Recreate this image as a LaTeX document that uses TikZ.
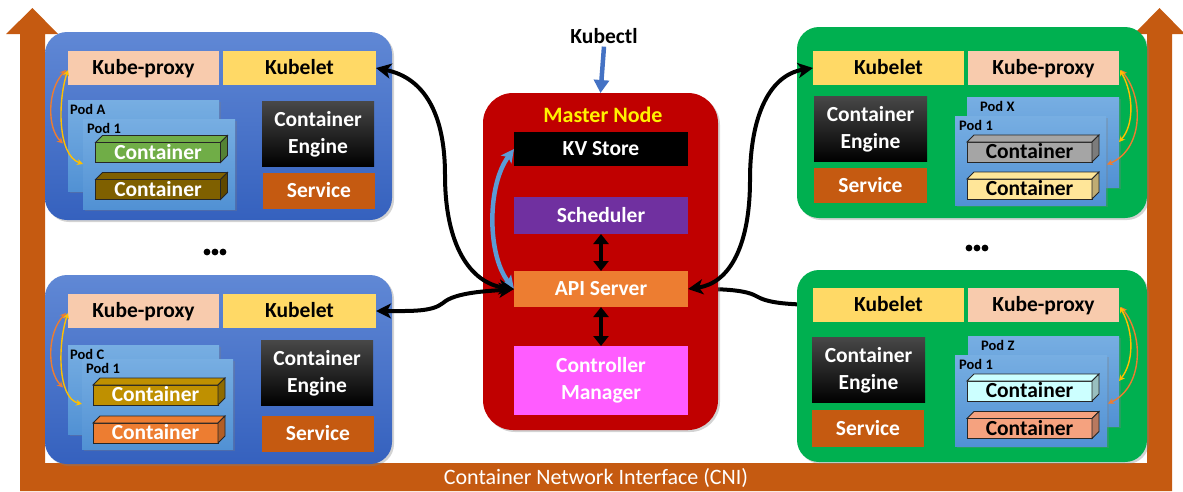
\documentclass[tikz,border=0pt]{standalone}
\usepackage{fontspec}
\setmainfont{Carlito}
\usetikzlibrary{arrows.meta,calc,shadows}

\definecolor{cni}{HTML}{C55A11}
\definecolor{wblueT}{HTML}{6088D5}
\definecolor{wblueB}{HTML}{3561BE}
\definecolor{wgreen}{HTML}{00B050}
\definecolor{kpc}{HTML}{F8CBAD}
\definecolor{klc}{HTML}{FFD966}
\definecolor{svc}{HTML}{C55A11}
\definecolor{podT}{HTML}{77AEE2}
\definecolor{podB}{HTML}{5191D4}
\definecolor{mred}{HTML}{C00000}
\definecolor{schc}{HTML}{7030A0}
\definecolor{apic}{HTML}{ED7D31}
\definecolor{ctlc}{HTML}{FF5CFF}
\definecolor{kctl}{HTML}{4472C4}
\definecolor{etcdlink}{HTML}{5B9BD5}
\definecolor{cGreen}{HTML}{70AD47}
\definecolor{cBrown}{HTML}{7F6000}
\definecolor{cGold}{HTML}{BF9000}
\definecolor{cOrange}{HTML}{ED7D31}
\definecolor{cGray}{HTML}{A5A5A5}
\definecolor{cYellow}{HTML}{FFE699}
\definecolor{cCyan}{HTML}{CCFFFF}
\definecolor{cSalmon}{HTML}{F5A27F}
\definecolor{netO}{HTML}{ED7D31}
\definecolor{netY}{HTML}{FFC000}

\pgfdeclarelayer{bg}
\pgfsetlayers{bg,main}

\tikzset{
  sz/.style 2 args={minimum width=#1pt, minimum height=#2pt},
  base/.style={inner sep=0pt, outer sep=0pt, align=center,
    font=\bfseries\fontsize{21.5}{27}\selectfont},
  oneline/.style={text height=13.8pt, text depth=0pt},
  worker/.style={base, rounded corners=22pt,
    drop shadow={shadow xshift=2pt, shadow yshift=-2pt, opacity=0.35}},
  blueworker/.style={worker, top color=wblueT, bottom color=wblueB},
  greenworker/.style={worker, fill=wgreen},
  kproxy/.style={base, oneline, fill=kpc, text=black},
  kubelet/.style={base, oneline, fill=klc, text=black},
  engine/.style={base, text=white, top color=black!72, middle color=black, bottom color=black},
  service/.style={base, oneline, fill=svc, text=white},
  pod/.style={base, top color=podT, bottom color=podB,
    drop shadow={shadow xshift=1.5pt, shadow yshift=-1.5pt, opacity=0.3}},
  podlabel/.style={inner sep=0pt, anchor=north west, font=\bfseries\fontsize{14.5}{16}\selectfont},
  cont/.style={base, oneline, sz={125}{20}, draw=black!85, line width=0.8pt, fill=#1},
  master/.style={base, rounded corners=30pt, fill=mred,
    drop shadow={shadow xshift=2pt, shadow yshift=-2pt, opacity=0.35}},
  mbox/.style={base, sz={174}{35}, text=white},
  bigarrow/.style={line width=4pt, black, {Stealth[length=15pt,width=15pt,inset=4pt]}-{Stealth[length=15pt,width=15pt,inset=4pt]}},
  smallarrow/.style={line width=1.4pt, {Stealth[length=6pt,width=6pt]}-{Stealth[length=6pt,width=6pt]}},
}

% draws the top and side faces of a container box
\newcommand{\contfaces}[2]{%
  \filldraw[fill=#2, draw=black!85, line width=0.8pt]
    (#1.north west) -- ++(7,-7) -- ($(#1.north east)+(7,-7)$) -- (#1.north east) -- cycle;
  \filldraw[fill=#2!75!black, draw=black!85, line width=0.8pt]
    (#1.north east) -- ++(7,-7) -- ($(#1.south east)+(7,-7)$) -- (#1.south east) -- cycle;
}

\begin{document}
\begin{tikzpicture}[x=1pt, y=-1pt]
\useasboundingbox (0,0) rectangle (1183,491);

% ---------- Container Network Interface band ----------
\fill[cni] (20,491) -- (20,34) -- (6,34) -- (32.5,8) -- (58,34) -- (45,34) -- (45,463)
  -- (1147,463) -- (1147,34) -- (1134,34) -- (1159.5,8) -- (1185,34) -- (1172,34)
  -- (1172,491) -- cycle;
\node[font=\fontsize{22}{26}\selectfont, text=white] (cnilabel) at (596,478) {Container Network Interface (CNI)};

% ---------- Worker node (top left) ----------
\node[blueworker, sz={347}{188}] (w1) at (218.5,126) {};
\node[kproxy, sz={151}{34}] (kp1) at (143.5,68) {Kube-proxy};
\node[kubelet, sz={153}{34}] (kl1) at (299.5,68) {Kubelet};
\node[engine, sz={112}{65}, yshift=-2.5pt] (en1) at (318,131.5) {Container\\Engine};
\node[service, sz={112}{36}] (sv1) at (319,191) {Service};
\node[pod, sz={151}{91}] (pa) at (143.5,145.5) {};
\node[podlabel] (paL) at ($(pa.north west)+(2,4)$) {Pod A};
\node[pod, sz={152}{90}] (pa1) at (159,164) {};
\node[podlabel] (pa1L) at ($(pa1.north west)+(4,4)$) {Pod 1};
\node[cont=cGreen, text=white] (ca1) at (158,152.5) {Container};
\contfaces{ca1}{cGreen}
\node[cont=cBrown, text=white] (ca2) at (158,189.5) {Container};
\contfaces{ca2}{cBrown}

% ---------- Worker node (bottom left) ----------
\node[blueworker, sz={347}{189}] (w2) at (218.5,369.5) {};
\node[kproxy, sz={151}{34}] (kp2) at (143.5,311) {Kube-proxy};
\node[kubelet, sz={153}{34}] (kl2) at (299.5,311) {Kubelet};
\node[engine, sz={112}{65}, yshift=-2.5pt] (en2) at (317,370.5) {Container\\Engine};
\node[service, sz={112}{36}] (sv2) at (318,434) {Service};
\node[pod, sz={151}{89}] (pc) at (143.5,389.5) {};
\node[podlabel] (pcL) at ($(pc.north west)+(2,4)$) {Pod C};
\node[pod, sz={151}{90}] (pc1) at (157.5,404) {};
\node[podlabel] (pc1L) at ($(pc1.north west)+(4,4)$) {Pod 1};
\node[cont=cGold, text=white] (cc1) at (155.5,395) {Container};
\contfaces{cc1}{cGold}
\node[cont=cOrange, text=white] (cc2) at (155.5,433) {Container};
\contfaces{cc2}{cOrange}

% ---------- Worker node (top right) ----------
\node[greenworker, sz={350}{191}] (w3) at (972,122.5) {};
\node[kubelet, sz={151}{34}] (kl3) at (888.5,68) {Kubelet};
\node[kproxy, sz={151}{34}] (kp3) at (1043.5,68) {Kube-proxy};
\node[engine, sz={113}{65}, yshift=-2.5pt] (en3) at (870.5,126.5) {Container\\Engine};
\node[service, sz={113}{35}] (sv3) at (870.5,185.5) {Service};
\node[pod, sz={152}{90}] (px) at (1043,142) {};
\node[podlabel] (pxL) at ($(px.north west)+(13,4)$) {Pod X};
\node[pod, sz={151}{89}] (px1) at (1030.5,160.5) {};
\node[podlabel] (px1L) at ($(px1.north west)+(4,4)$) {Pod 1};
\node[cont=cGray, text=black] (cx1) at (1029.5,152) {Container};
\contfaces{cx1}{cGray}
\node[cont=cYellow, text=black] (cx2) at (1029.5,189) {Container};
\contfaces{cx2}{cYellow}

% ---------- Worker node (bottom right) ----------
\node[greenworker, sz={350}{192}] (w4) at (972,366) {};
\node[kubelet, sz={151}{34}] (kl4) at (888.5,305) {Kubelet};
\node[kproxy, sz={151}{34}] (kp4) at (1043.5,305) {Kube-proxy};
\node[engine, sz={113}{65}, yshift=-2.5pt] (en4) at (868.5,367.5) {Container\\Engine};
\node[service, sz={112}{37}] (sv4) at (868,428.5) {Service};
\node[pod, sz={151}{90}] (pz) at (1043.5,381) {};
\node[podlabel] (pzL) at ($(pz.north west)+(13,4)$) {Pod Z};
\node[pod, sz={152}{91}] (pz1) at (1031,400.5) {};
\node[podlabel] (pz1L) at ($(pz1.north west)+(4,4)$) {Pod 1};
\node[cont=cCyan, text=black] (cz1) at (1029.5,391) {Container};
\contfaces{cz1}{cCyan}
\node[cont=cSalmon, text=black] (cz2) at (1029.5,428.5) {Container};
\contfaces{cz2}{cSalmon}

% ---------- Master node ----------
\node[master, sz={235}{337}] (mn) at (600.5,261.5) {};
\node[base, text=yellow, font=\bfseries\fontsize{22}{26}\selectfont] (mnL) at (603,114.5) {Master Node};
\node[mbox, oneline, fill=black, sz={174}{34}] (kv) at (601,149) {KV Store};
\node[mbox, oneline, fill=schc, sz={174}{37}] (sch) at (601,215.5) {Scheduler};
\node[mbox, oneline, fill=apic, sz={174}{36}] (api) at (601,289) {API Server};
\node[mbox, fill=ctlc, sz={174}{69}, yshift=-2pt] (ctl) at (601,378.5) {Controller\\Manager};

\node[base, font=\bfseries\fontsize{21.5}{26}\selectfont] (kubectl) at (604,36) {Kubectl};
\draw[kctl, line width=4.5pt, -{Triangle[length=13pt,width=15pt]}] (kubectl.south) ++(0,3) -- (mn.north);

\draw[bigarrow, {Triangle[length=10pt,width=15pt]}-{Triangle[length=10pt,width=15pt]}] (sch.south) -- (api.north);
\draw[bigarrow, {Triangle[length=10pt,width=15pt]}-{Triangle[length=10pt,width=15pt]}] (api.south) -- (ctl.north);

\draw[etcdlink, line width=4.5pt, {Stealth[length=13pt,width=13pt,inset=3pt]}-{Stealth[length=13pt,width=13pt,inset=3pt]}]
  (kv.west) .. controls (487,185) and (487,255) .. (api.west);

% ---------- Kubelet <-> API server links ----------
\draw[bigarrow] (kl1.east) .. controls (425,78) and (445,115) .. (445,175)
  .. controls (445,245) and (470,283) .. (api.west);
\draw[bigarrow] (kl2.east) .. controls (410,311) and (432,312) .. (443,303)
  .. controls (455,292) and (490,291) .. (api.west);
\draw[bigarrow] (api.east) .. controls (730,283) and (750,245) .. (750,180)
  .. controls (750,115) and (770,75) .. (kl3.west);
\begin{pgfonlayer}{bg}
\draw[line width=4pt, black, -{Stealth[length=15pt,width=15pt,inset=4pt]}]
  (kl4.west) .. controls (785,304) and (768,303) .. (756,296)
  .. controls (744,289) and (715,289) .. (api.east);
\end{pgfonlayer}

% ---------- Kube-proxy <-> pod links ----------
\draw[smallarrow, netO] ($(kp1.west)+(-2,2)$) .. controls (47,90) and (47,128) .. ($(pa.west)+(-5,-2)$);
\draw[smallarrow, netY] ($(kp1.west)+(0,2)$) .. controls (58,100) and (57,155) .. (pa1.west);
\draw[smallarrow, netO] ($(kp2.west)+(-2,2)$) .. controls (47,333) and (47,371) .. ($(pc.west)+(-5,-2)$);
\draw[smallarrow, netY] ($(kp2.west)+(0,2)$) .. controls (58,343) and (57,398) .. (pc1.west);
\draw[smallarrow, netO] ($(kp3.east)+(2,2)$) .. controls (1145,100) and (1142,150) .. ($(px1.east)+(1,4)$);
\draw[smallarrow, netY] ($(kp3.east)+(1,2)$) .. controls (1134,95) and (1134,125) .. (px.east);
\draw[smallarrow, netO] ($(kp4.east)+(2,2)$) .. controls (1145,337) and (1142,388) .. ($(pz1.east)+(1,3)$);
\draw[smallarrow, netY] ($(kp4.east)+(1,2)$) .. controls (1134,332) and (1134,362) .. (pz.east);

% ---------- ellipsis between worker nodes ----------
\foreach \x in {207,215,223} \fill (\x,252) circle (3.4);
\foreach \x in {969,977,985} \fill (\x,248) circle (3.4);
\end{tikzpicture}
\end{document}
